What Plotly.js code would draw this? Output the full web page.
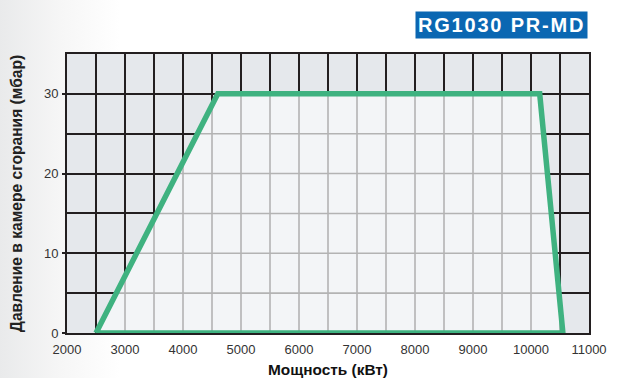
<!DOCTYPE html>
<html>
<head>
<meta charset="utf-8">
<script src="https://cdn.plot.ly/plotly-3.0.1.min.js"></script>
<style>
html,body{margin:0;padding:0;width:617px;height:378px;overflow:hidden;
background:linear-gradient(to right,#e9eaeb 0px,#f6f6f6 60px,#ffffff 120px);}
#chart{width:617px;height:378px;}
</style>
</head>
<body>
<div id="chart"></div>
<script>
// Working field polygon (power kW, pressure mbar)
const powerKW = [2500, 4600, 10150, 10550];
const pressureMbar = [0, 30, 30, 0];
const xTickValues = [2000, 3000, 4000, 5000, 6000, 7000, 8000, 9000, 10000, 11000];
const xTickLabels = ['2000','3000','4000','5000','6000','7000','8000','9000','10000','11000'];
const yTickValues = [0, 10, 20, 30];
const yTickLabels = ['0','10','20','30'];
const chartTitle = 'RG1030 PR-MD';
const xTitle = 'Мощность (кВт)';
const yTitle = 'Давление в камере сгорания (мбар)';

const xRange = [2000, 11000], yRange = [0, 35];
const xStep = 500, yStep = 5;

// upper boundary of polygon at x
function upperAt(x){
  for(let i=0;i<powerKW.length-1;i++){
    const a=powerKW[i], b=powerKW[i+1];
    if(x>=a && x<=b){
      return pressureMbar[i]+(pressureMbar[i+1]-pressureMbar[i])*(x-a)/(b-a);
    }
  }
  return null;
}
// x where boundary crosses y on rising and falling parts
function crossings(y){
  const xs=[];
  for(let i=0;i<powerKW.length-1;i++){
    const y0=pressureMbar[i], y1=pressureMbar[i+1];
    if(y0!==y1 && y>=Math.min(y0,y1) && y<=Math.max(y0,y1)){
      xs.push(powerKW[i]+(powerKW[i+1]-powerKW[i])*(y-y0)/(y1-y0));
    }
  }
  return xs;
}
const gx=[], gy=[];
for(let x=xRange[0]; x<=xRange[1]; x+=xStep){
  if(x>powerKW[0] && x<powerKW[powerKW.length-1]){
    gx.push(x,x,null); gy.push(0,upperAt(x),null);
  }
}
const maxP=Math.max(...pressureMbar);
for(let y=yStep; y<maxP; y+=yStep){
  const c=crossings(y);
  if(c.length>=2){ gx.push(Math.min(...c),Math.max(...c),null); gy.push(y,y,null); }
}

const closedX = powerKW.concat([powerKW[0]]);
const closedY = pressureMbar.concat([pressureMbar[0]]);

const traces = [
  {x: closedX, y: closedY, type:'scatter', mode:'lines', fill:'toself',
   fillcolor:'#f3f5f7', line:{width:0, color:'rgba(0,0,0,0)'}, hoverinfo:'skip', showlegend:false},
  {x: gx, y: gy, type:'scatter', mode:'lines', line:{color:'#b3b3b3', width:1.6},
   hoverinfo:'skip', showlegend:false, connectgaps:false},
  {x: closedX, y: closedY, type:'scatter', mode:'lines',
   line:{color:'#3fb280', width:5.5, join:'miter'}, showlegend:false}
];

const layout = {
  width:617, height:378,
  margin:{l:67, r:28, t:54, b:45},
  paper_bgcolor:'rgba(0,0,0,0)',
  plot_bgcolor:'#e5e8ec',
  font:{family:'"Liberation Sans", Arial, sans-serif', color:'#333', size:13},
  xaxis:{range:xRange, tickvals:xTickValues, ticktext:xTickLabels,
    showgrid:true, gridcolor:'#231f20', gridwidth:2,
    minor:{dtick:xStep, showgrid:true, gridcolor:'#231f20', gridwidth:2},
    showline:true, mirror:true, linecolor:'#231f20', linewidth:2,
    zeroline:false, ticks:'', ticklabelstandoff:3, tickfont:{size:13, color:'#333'},
    title:{text:xTitle, font:{size:15.4, color:'#111', weight:'bold'}, standoff:11}},
  yaxis:{range:yRange, tickvals:yTickValues, ticktext:yTickLabels,
    showgrid:true, gridcolor:'#231f20', gridwidth:2,
    minor:{dtick:yStep, showgrid:true, gridcolor:'#231f20', gridwidth:2},
    showline:true, mirror:true, linecolor:'#231f20', linewidth:2,
    zeroline:false, ticks:'outside', ticklen:3, tickcolor:'#231f20', tickwidth:2,
    ticklabelstandoff:1, tickfont:{size:13, color:'#333'},
    title:{text:yTitle, font:{size:15.6, color:'#222', weight:'bold'}, standoff:17}},
  annotations:[{text:'<b><span style="letter-spacing:1.8px">'+chartTitle+'</span></b>', xref:'paper', yref:'paper',
    x:1, y:1, xanchor:'right', yanchor:'bottom', yshift:15, xshift:-1,
    showarrow:false, bgcolor:'#0b67b2', borderpad:2,
    font:{size:20, color:'#ffffff', family:'"Liberation Sans", Arial, sans-serif'}}]
};
Plotly.newPlot('chart', traces, layout, {displayModeBar:false, staticPlot:true});
</script>
</body>
</html>
